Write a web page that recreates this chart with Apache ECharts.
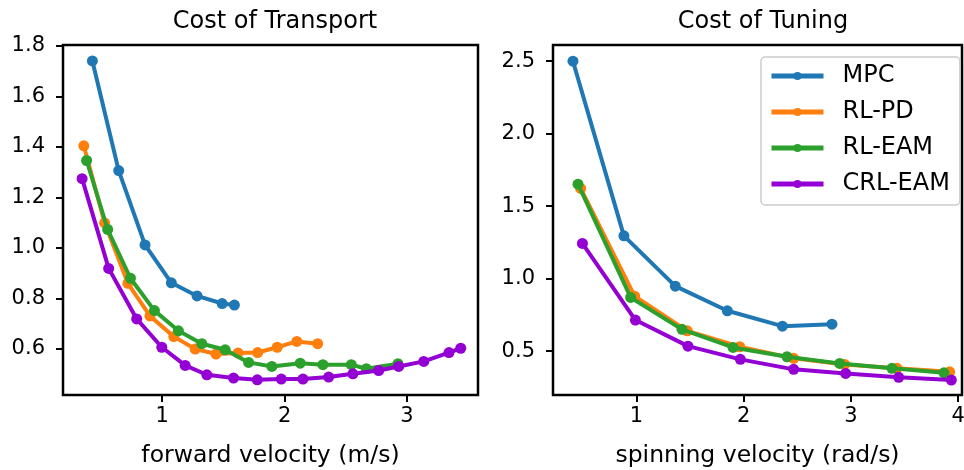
<!DOCTYPE html>
<html>
<head>
<meta charset="utf-8">
<script src="https://cdn.jsdelivr.net/npm/echarts@6/dist/echarts.min.js"></script>
<style>
  html, body { margin: 0; padding: 0; background: #fff; }
  #chart { width: 964px; height: 470px; }
</style>
</head>
<body>
<div id="chart"></div>
<script>
const seriesNames = ['MPC', 'RL-PD', 'RL-EAM', 'CRL-EAM'];
const colors = ['#1f77b4', '#ff7f0e', '#2ca02c', '#9400d3'];

// Cost of Transport (forward velocity, m/s)
const transportMpcX = [0.43, 0.645, 0.86, 1.075, 1.285, 1.49, 1.59];
const transportMpcY = [1.74, 1.306, 1.012, 0.862, 0.81, 0.78, 0.774];
const transportRlpdX = [0.36, 0.53, 0.72, 0.90, 1.095, 1.27, 1.44, 1.62, 1.78, 1.94, 2.10, 2.27];
const transportRlpdY = [1.404, 1.099, 0.86, 0.731, 0.649, 0.60, 0.58, 0.584, 0.586, 0.607, 0.63, 0.621];
const transportRleamX = [0.383, 0.555, 0.741, 0.937, 1.133, 1.324, 1.515, 1.706, 1.896, 2.128, 2.313, 2.545, 2.668, 2.926];
const transportRleamY = [1.346, 1.073, 0.88, 0.752, 0.672, 0.621, 0.597, 0.547, 0.531, 0.544, 0.538, 0.538, 0.522, 0.542];
const transportCrlX = [0.346, 0.563, 0.792, 0.997, 1.188, 1.365, 1.583, 1.777, 1.973, 2.15, 2.36, 2.558, 2.769, 2.932, 3.137, 3.343, 3.439];
const transportCrlY = [1.274, 0.919, 0.719, 0.607, 0.535, 0.498, 0.485, 0.478, 0.481, 0.481, 0.489, 0.502, 0.515, 0.531, 0.551, 0.586, 0.603];

// Cost of Tuning (spinning velocity, rad/s)
const tuningMpcX = [0.409, 0.884, 1.363, 1.848, 2.361, 2.823];
const tuningMpcY = [2.50, 1.295, 0.948, 0.778, 0.672, 0.686];
const tuningRlpdX = [0.481, 0.984, 1.475, 1.963, 2.466, 2.941, 3.429, 3.92];
const tuningRlpdY = [1.622, 0.879, 0.640, 0.530, 0.450, 0.408, 0.381, 0.357];
const tuningRleamX = [0.456, 0.947, 1.425, 1.901, 2.404, 2.895, 3.382, 3.867];
const tuningRleamY = [1.652, 0.870, 0.650, 0.525, 0.461, 0.415, 0.381, 0.350];
const tuningCrlX = [0.497, 0.991, 1.481, 1.969, 2.466, 2.951, 3.445, 3.936];
const tuningCrlY = [1.243, 0.714, 0.534, 0.443, 0.374, 0.346, 0.319, 0.300];

// tick labels
const transportXTicks = [1, 2, 3];
const transportYTicks = [0.6, 0.8, 1.0, 1.2, 1.4, 1.6, 1.8];
const tuningXTicks = [1, 2, 3, 4];
const tuningYTicks = [0.5, 1.0, 1.5, 2.0, 2.5];

const transportData = [
    [transportMpcX, transportMpcY],
    [transportRlpdX, transportRlpdY],
    [transportRleamX, transportRleamY],
    [transportCrlX, transportCrlY]
];
const tuningData = [
    [tuningMpcX, tuningMpcY],
    [tuningRlpdX, tuningRlpdY],
    [tuningRleamX, tuningRleamY],
    [tuningCrlX, tuningCrlY]
];

const font = 'DejaVu Sans';
const chart = echarts.init(document.getElementById('chart'), null, {renderer: 'canvas'});

function zip(xs, ys) {
    return xs.map((x, i) => [x, ys[i]]);
}

function makeSeries(data, axisIndex) {
    return data.map((d, i) => ({
        name: seriesNames[i],
        type: 'line',
        xAxisIndex: axisIndex,
        yAxisIndex: axisIndex,
        data: zip(d[0], d[1]),
        symbol: 'circle',
        symbolSize: 11,
        showSymbol: true,
        animation: false,
        color: colors[i],
        lineStyle: {width: 4, color: colors[i]},
        itemStyle: {color: colors[i]},
        z: 2 + i
    }));
}

function xAxis(gridIndex, min, max, ticks, name) {
    return {
        type: 'value',
        gridIndex: gridIndex,
        min: min,
        max: max,
        name: name,
        nameLocation: 'middle',
        nameGap: 49,
        nameTextStyle: {fontFamily: font, fontSize: 23.5, color: '#000'},
        axisLine: {show: false},
        splitLine: {show: false},
        axisTick: {show: true, inside: false, length: 7, customValues: ticks,
            lineStyle: {color: '#000', width: 2}},
        axisLabel: {customValues: ticks, margin: 11, fontFamily: font, fontSize: 21, color: '#000'}
    };
}

function yAxis(gridIndex, min, max, ticks) {
    return {
        type: 'value',
        gridIndex: gridIndex,
        min: min,
        max: max,
        axisLine: {show: false},
        splitLine: {show: false},
        axisTick: {show: true, inside: false, length: 7, customValues: ticks,
            lineStyle: {color: '#000', width: 2}},
        axisLabel: {customValues: ticks, margin: 18, fontFamily: font, fontSize: 21, color: '#000',
            formatter: v => v.toFixed(1)}
    };
}

const option = {
    backgroundColor: '#fff',
    animation: false,
    title: [
        {text: 'Cost of Transport', left: 270, top: 5, textAlign: 'center',
            textStyle: {fontFamily: font, fontSize: 24, fontWeight: 'normal', color: '#000'}},
        {text: 'Cost of Tuning', left: 758, top: 5, textAlign: 'center',
            textStyle: {fontFamily: font, fontSize: 24, fontWeight: 'normal', color: '#000'}}
    ],
    grid: [
        {left: 63, top: 45, width: 415, height: 350, show: true, borderColor: '#000', borderWidth: 2.5,
            backgroundColor: 'transparent', containLabel: false, outerBoundsMode: 'none'},
        {left: 553, top: 45, width: 409, height: 350, show: true, borderColor: '#000', borderWidth: 2.5,
            backgroundColor: 'transparent', containLabel: false, outerBoundsMode: 'none'}
    ],
    xAxis: [
        xAxis(0, 0.19, 3.58, transportXTicks, 'forward velocity (m/s)'),
        xAxis(1, 0.223, 4.035, tuningXTicks, 'spinning velocity (rad/s)')
    ],
    yAxis: [
        yAxis(0, 0.418, 1.803, transportYTicks),
        yAxis(1, 0.197, 2.612, tuningYTicks)
    ],
    legend: {
        data: seriesNames,
        orient: 'vertical',
        left: 761,
        top: 57,
        padding: [7, 10, 9, 8],
        itemWidth: 52,
        itemHeight: 10,
        itemGap: 12,
        borderColor: '#cccccc',
        borderWidth: 1.5,
        borderRadius: 4,
        backgroundColor: 'rgba(255,255,255,0.8)',
        lineStyle: {width: 5},
        textStyle: {fontFamily: font, fontSize: 24, color: '#000', padding: [0, 0, 0, 14]}
    },
    series: makeSeries(transportData, 0).concat(makeSeries(tuningData, 1))
};

chart.setOption(option);
</script>
</body>
</html>
